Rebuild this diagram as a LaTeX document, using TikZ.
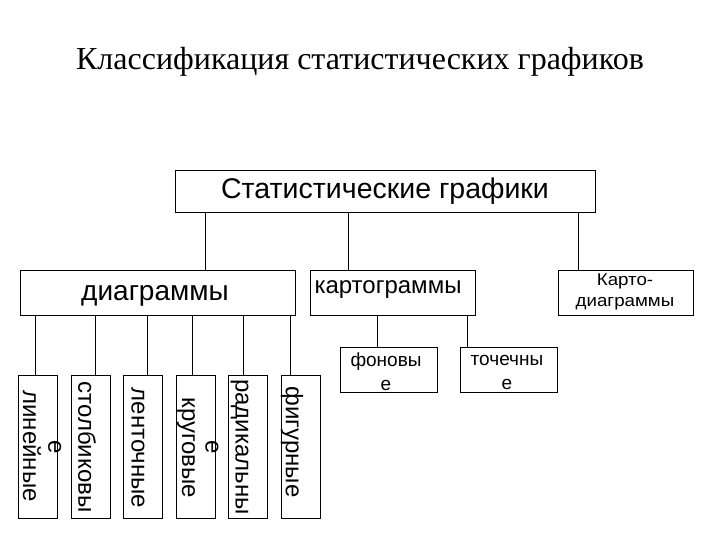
\documentclass[tikz,border=0pt]{standalone}
\usepackage{fontspec}
\setmainfont{Liberation Sans}
\newfontfamily\serif{Liberation Serif}
\begin{document}
\begin{tikzpicture}[x=1pt,y=-1pt,
  bx/.style={draw,thick,fill=white,inner sep=0pt},
  ln/.style={thick}]
\useasboundingbox (0,0) rectangle (720,540);
\node[font=\serif\fontsize{32}{36}\selectfont] (title) at (360,62) {Классификация статистических графиков};
\node[bx,minimum width=420,minimum height=42,font=\fontsize{28.5}{32}\selectfont] (top) at (385,191) {Статистические графики};
\node[bx,minimum width=275,minimum height=45] (dia) at (157.5,292.5) {};
\node[font=\fontsize{28}{30}\selectfont] at (155,296) {диаграммы};
\node[bx,minimum width=165,minimum height=45] (kart) at (392.5,292.5) {};
\node[font=\fontsize{24}{27}\selectfont] at (388,290) {картограммы};
\node[bx,minimum width=135,minimum height=45] (kd) at (625.5,292.5) {};
\node[font=\fontsize{17}{21}\selectfont,align=center,xscale=1.1] at (625,292) {Карто-\\диаграммы};
\foreach \n/\x in {t1/205,t2/348,t3/578}{\coordinate (\n) at (\x,212);}
\draw[ln] (t1) -- (t1|-dia.north);
\draw[ln] (t2) -- (t2|-kart.north);
\draw[ln] (t3) -- (t3|-kd.north);
% small boxes
\foreach \n/\x in {b1/37.5,b2/90.5,b3/143,b4/195.5,b5/248,b6/300.5}{
  \node[bx,minimum width=39,minimum height=143] (\n) at (\x,446.5) {};}
\foreach \n/\x in {b1/35,b2/95,b3/147,b4/192,b5/243,b6/290}{
  \draw[ln] (\x,315) -- (\x,375);}
\tikzset{vt/.style={rotate=-90,font=\fontsize{24}{30}\selectfont,align=center}}
\node[vt] at (32,446) {линейные};
\node[vt] at (72,447) {столбиковы\\е};
\node[vt] at (138,448) {ленточные};
\node[vt] at (186,448) {круговые};
\node[vt] at (227,447) {радикальны\\е};
\node[vt] at (292,442) {фигурные};
% fon / toch
\node[bx,minimum width=97,minimum height=45] (fon) at (388.5,369.5) {};
\node[bx,minimum width=97,minimum height=45] (toch) at (508.5,369.5) {};
\node[font=\fontsize{19}{24}\selectfont,align=center] at (386,372) {фоновы\\е};
\node[font=\fontsize{19}{24}\selectfont,align=center] at (507,372) {точечны\\е};
\draw[ln] (377,315) -- (377,347);
\draw[ln] (467,315) -- (467,347);
\end{tikzpicture}
\end{document}
